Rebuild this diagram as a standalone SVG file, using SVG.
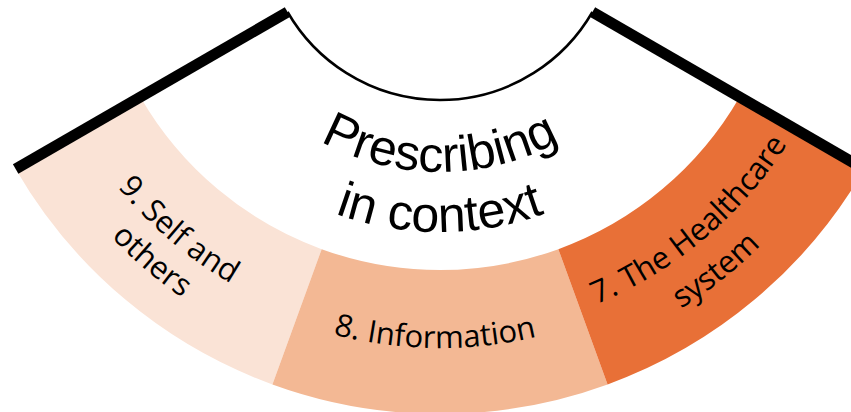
<svg xmlns="http://www.w3.org/2000/svg" width="851" height="412" viewBox="0 0 851 412">
  <style>
    .lbl { font-family: "Open Sans", "Liberation Sans", sans-serif; font-size: 31px; fill: #000; }
    .title { font-family: "Liberation Sans", Arial, sans-serif; font-size: 50px; fill: #000; }
    .edge { stroke: #000; stroke-width: 11; fill: none; stroke-linecap: butt; }
  </style>
  <defs>
    <path id="pPres" d="M206.96,8.82 A248,248 0 0 0 673.04,8.82"/>
    <path id="pCtx" d="M150.57,29.34 A308,308 0 0 0 729.43,29.34"/>
    <path id="pInfo" d="M223.55,288.60 A424,424 0 0 0 647.51,293.77"/>
    <path id="pSelf1" d="M47.88,62.86 A416,416 0 0 0 364.20,333.05"/>
    <path id="pSelf2" d="M12.06,75.55 A454,454 0 0 0 357.28,370.42"/>
    <path id="pHc1" d="M511.35,328.75 A411,411 0 0 0 826.22,64.56"/>
    <path id="pHc2" d="M507.10,373.01 A454,454 0 0 0 862.40,90.39"/>
  </defs>
  <rect width="851" height="412" fill="#fff"/>

  <g id="seg9">
    <path d="M15.65,169 A490,490 0 0 0 272.42,384.45 L321.67,249.14 A346,346 0 0 1 140.36,97 Z" fill="#FAE3D6"/>
    <text class="lbl"><textPath href="#pSelf1" startOffset="50%" text-anchor="middle">9. Self and</textPath></text>
    <text class="lbl"><textPath href="#pSelf2" startOffset="50%" text-anchor="middle">others</textPath></text>
  </g>
  <g id="seg8">
    <path d="M272.42,384.45 A490,490 0 0 0 607.58,384.45 L558.33,249.14 A346,346 0 0 1 321.67,249.14 Z" fill="#F3B894"/>
    <text class="lbl"><textPath href="#pInfo" startOffset="50%" text-anchor="middle">8. Information</textPath></text>
  </g>
  <g id="seg7">
    <path d="M607.58,384.45 A490,490 0 0 0 864.35,169 L739.64,97 A346,346 0 0 1 558.33,249.14 Z" fill="#E87037"/>
    <text class="lbl"><textPath href="#pHc1" startOffset="50%" text-anchor="middle">7. The Healthcare</textPath></text>
    <text class="lbl"><textPath href="#pHc2" startOffset="50%" text-anchor="middle">system</textPath></text>
  </g>
  <g id="center">
    <text class="title"><textPath href="#pPres" startOffset="50%" text-anchor="middle">Prescribing</textPath></text>
    <text class="title"><textPath href="#pCtx" startOffset="50%" text-anchor="middle">in context</textPath></text>
  </g>

  <g id="connectors">
    <line class="edge" x1="287.58" y1="12" x2="15.65" y2="169"/>
    <line class="edge" x1="592.42" y1="12" x2="864.35" y2="169"/>
    <path d="M287.58,12 A176,176 0 0 0 592.42,12" fill="none" stroke="#000" stroke-width="2.5"/>
  </g>
</svg>
